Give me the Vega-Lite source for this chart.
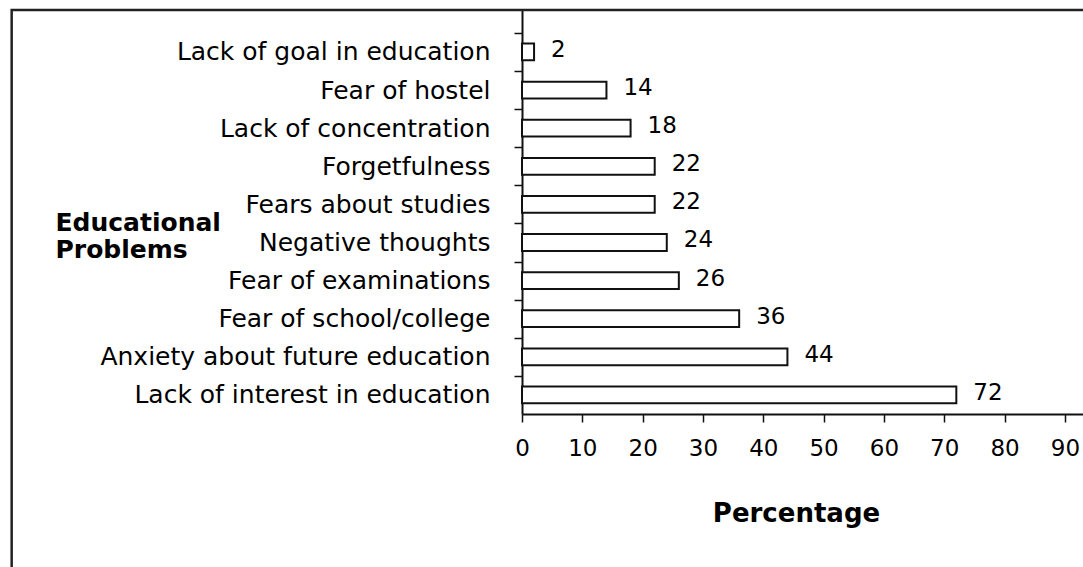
{
  "$schema": "https://vega.github.io/schema/vega-lite/v6.json",
  "width": 561,
  "height": 404,
  "autosize": {"type": "none"},
  "padding": {"left": 522, "top": 10, "right": 0, "bottom": 153},
  "background": "white",
  "config": {"view": {"stroke": null}, "font": "DejaVu Sans"},
  "data": {
    "values": [
      {"problem": "Lack of goal in education", "percentage": 2},
      {"problem": "Fear of hostel", "percentage": 14},
      {"problem": "Lack of concentration", "percentage": 18},
      {"problem": "Forgetfulness", "percentage": 22},
      {"problem": "Fears about studies", "percentage": 22},
      {"problem": "Negative thoughts", "percentage": 24},
      {"problem": "Fear of examinations", "percentage": 26},
      {"problem": "Fear of school/college", "percentage": 36},
      {"problem": "Anxiety about future education", "percentage": 44},
      {"problem": "Lack of interest in education", "percentage": 72}
    ]
  },
  "layer": [
    {
      "data": {"values": [{"frame": 1}]},
      "mark": {"type": "rect", "filled": false, "stroke": "#222222", "strokeWidth": 2.5},
      "encoding": {
        "x": {"datum": -84.6, "type": "quantitative", "scale": {"domain": [0, 93], "nice": false, "zero": false}},
        "x2": {"datum": 96},
        "y": {"datum": 1, "type": "quantitative", "scale": {"domain": [0, 1], "nice": false, "zero": false}, "axis": null},
        "y2": {"datum": -0.6}
      }
    },
    {
      "layer": [
        {
          "mark": {"type": "bar", "fill": "white", "stroke": "#111111", "strokeWidth": 2, "height": {"band": 0.44}},
          "encoding": {
            "y": {
              "field": "problem", "type": "nominal", "sort": null,
              "scale": {"paddingInner": 0, "paddingOuter": 0.3, "align": 1},
              "axis": {
                "orient": "left",
                "title": ["Educational", "Problems"],
                "titleAngle": 0, "titleAlign": "left", "titleBaseline": "alphabetic",
                "titleX": -467, "titleY": 220,
                "titleFontSize": 25, "titleFontWeight": "bold", "titleColor": "#000000", "titleLineHeight": 27,
                "labelFontSize": 25, "labelColor": "#000000", "labelPadding": 24, "labelLimit": 600,
                "tickSize": 8, "tickColor": "#111111", "tickWidth": 1.5,
                "tickOffset": -19.06, "labelOffset": 19.06,
                "domainColor": "#111111", "domainWidth": 2
              }
            },
            "x": {
              "field": "percentage", "type": "quantitative",
              "scale": {"domain": [0, 93], "nice": false, "zero": false},
              "axis": {
                "title": "Percentage", "titleFontSize": 26, "titleFontWeight": "bold", "titleColor": "#000000", "titlePadding": 40,
                "titleX": 274, "titleAlign": "center",
                "values": [0, 10, 20, 30, 40, 50, 60, 70, 80, 90],
                "labelFontSize": 23, "labelColor": "#000000", "labelPadding": 15, "labelFlush": false,
                "tickSize": 8, "tickWidth": 1.5, "tickColor": "#111111",
                "domainColor": "#111111", "domainWidth": 2, "grid": false
              }
            }
          }
        },
        {
          "mark": {"type": "text", "align": "left", "baseline": "middle", "dx": 17, "dy": -2, "fontSize": 23, "fill": "#000000"},
          "encoding": {
            "y": {"field": "problem", "type": "nominal", "sort": null},
            "x": {"field": "percentage", "type": "quantitative"},
            "text": {"field": "percentage", "type": "quantitative"}
          }
        }
      ]
    }
  ],
  "resolve": {"scale": {"y": "independent"}}
}
